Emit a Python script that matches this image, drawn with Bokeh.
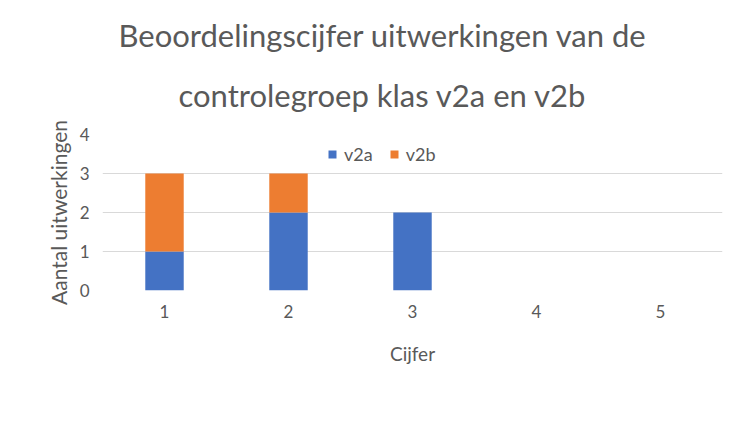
from bokeh.plotting import figure
from bokeh.models import Title, Legend, LegendItem, FixedTicker, ColumnDataSource
from bokeh.embed import file_html
from bokeh.resources import INLINE

cijfers = [1, 2, 3, 4, 5]
tick_labels = ["1", "2", "3", "4", "5"]
v2a = [1, 2, 2, 0, 0]
v2b = [2, 1, 0, 0, 0]
title_lines = ["Beoordelingscijfer uitwerkingen van de", "controlegroep klas v2a en v2b"]

FONT = "Lato"
GREY = "#595959"

src = ColumnDataSource(dict(x=cijfers, v2a=v2a, v2b=v2b))

p = figure(width=726, height=430, frame_width=620, frame_height=156,
           x_range=(0.5, 5.5), y_range=(0, 4),
           output_backend="svg", toolbar_location=None, title=None,
           min_border_left=102, min_border_right=4, min_border_top=134, min_border_bottom=140)

r1 = p.vbar_stack(["v2a", "v2b"], x="x", width=0.31, source=src,
                  color=["#4472C4", "#ED7D31"], line_color=None)

t2 = Title(text=title_lines[1], align="left", text_font=FONT, text_font_size="31px",
           text_color=GREY, text_font_style="normal", offset=76, standoff=41)
t1 = Title(text=title_lines[0], align="left", text_font=FONT, text_font_size="31px",
           text_color=GREY, text_font_style="normal", offset=16, standoff=0)
p.add_layout(t2, "above")
p.add_layout(t1, "above")

p.xaxis.ticker = FixedTicker(ticks=cijfers)
p.xaxis.major_label_overrides = {c: l for c, l in zip(cijfers, tick_labels)}
p.yaxis.ticker = FixedTicker(ticks=[0, 1, 2, 3, 4])
for ax in (p.xaxis, p.yaxis):
    ax.axis_line_color = None
    ax.major_tick_line_color = None
    ax.minor_tick_line_color = None
    ax.major_label_text_font = FONT
    ax.major_label_text_font_size = "17px"
    ax.major_label_text_color = GREY
    ax.axis_label_text_font = FONT
    ax.axis_label_text_color = GREY
    ax.axis_label_text_font_style = "normal"
p.xaxis.axis_label = "Cijfer"
p.yaxis.axis_label = "Aantal uitwerkingen"
p.xaxis.axis_label_text_font_size = "19px"
p.yaxis.axis_label_text_font_size = "21px"
p.xaxis.major_label_standoff = 8
p.xaxis.axis_label_standoff = 21
p.yaxis.major_label_standoff = 7
p.yaxis.axis_label_standoff = 6

p.xgrid.grid_line_color = None
p.ygrid.grid_line_color = "#D9D9D9"
p.ygrid.grid_line_width = 1
p.outline_line_color = None

legend = Legend(items=[LegendItem(label="v2a", renderers=[r1[0]]),
                       LegendItem(label="v2b", renderers=[r1[1]])],
                orientation="horizontal", location=(225, 125),
                label_text_font=FONT, label_text_font_size="18px", label_text_color=GREY,
                glyph_width=10, glyph_height=10, spacing=16, label_standoff=7,
                background_fill_alpha=0, border_line_color=None, padding=0, margin=0)
p.add_layout(legend, "center")

open("out.html", "w").write(file_html(p, INLINE))
